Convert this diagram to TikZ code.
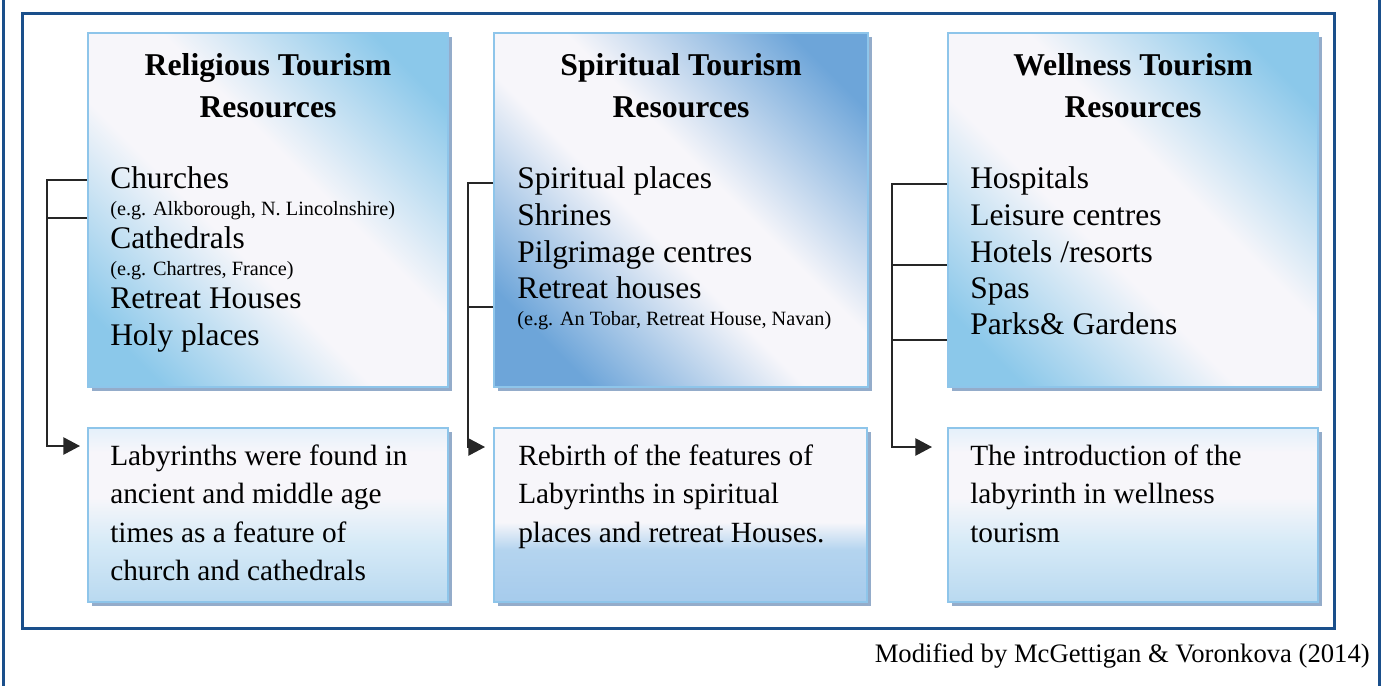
\documentclass[tikz,border=0pt]{standalone}
\usepackage{fontspec}
\setmainfont{Liberation Serif}
\usetikzlibrary{arrows.meta,calc,shadows}

\definecolor{frameblue}{HTML}{1A4F8B}
\definecolor{edgeblue}{HTML}{8EC5EA}
\definecolor{shad}{HTML}{94ACCA}
\definecolor{skyA}{HTML}{8BC8EA}
\definecolor{skyB}{HTML}{6DA5D9}
\definecolor{paleW}{HTML}{F7F6FA}
\definecolor{noteA}{HTML}{B9D9F0}
\definecolor{noteB}{HTML}{D6EAF7}
\definecolor{noteC}{HTML}{E4F0FA}
\definecolor{noteD}{HTML}{A6CBEC}
\definecolor{noteE}{HTML}{B4D4EF}

\pgfdeclareverticalshading{skydiag}{100bp}{color(0bp)=(skyA); color(22bp)=(skyA); color(43bp)=(paleW); color(57bp)=(paleW); color(78bp)=(skyA); color(100bp)=(skyA)}
\pgfdeclareverticalshading{deepdiag}{100bp}{color(0bp)=(skyB); color(24bp)=(skyB); color(45bp)=(paleW); color(56bp)=(paleW); color(78bp)=(skyB); color(100bp)=(skyB)}
\pgfdeclareverticalshading{notefade}{100bp}{color(0bp)=(noteA); color(25bp)=(noteA); color(42bp)=(noteB); color(55bp)=(paleW); color(68bp)=(paleW); color(75bp)=(noteC); color(100bp)=(noteC)}
\pgfdeclareverticalshading{notedeep}{100bp}{color(0bp)=(noteD); color(25bp)=(noteD); color(40bp)=(noteE); color(48bp)=(paleW); color(75bp)=(paleW); color(100bp)=(paleW)}

\tikzset{wire/.style={line width=1.1pt, black!85},
  link/.style={wire, -{Triangle[length=12.5pt, width=13pt]}},
  resbox/.style={draw=edgeblue, line width=1.5pt, anchor=north west, inner sep=0pt,
    minimum height=265.5pt, general shadow={fill=shad, shadow xshift=3pt, shadow yshift=-3pt}},
  notebox/.style={resbox, minimum height=130.5pt},
  head/.style={anchor=base, inner sep=0pt, font=\fontsize{23.8}{28}\selectfont\bfseries},
  item/.style={anchor=base west, inner sep=0pt, font=\fontsize{23.6}{28}\selectfont},
  eg/.style={anchor=base west, inner sep=0pt, font=\fontsize{15.2}{18}\selectfont},
  note/.style={anchor=base west, inner sep=0pt, font=\fontsize{22}{26}\selectfont}}

\begin{document}
\begin{tikzpicture}[x=0.75pt, y=-0.75pt]
  \useasboundingbox (0,0) rectangle (1392,686);
  % page edges and frame
  \draw[frameblue, line width=2.25pt] (3,0) -- (3,686);
  \draw[frameblue, line width=2.25pt] (1379,0) -- (1379,686);
  \draw[frameblue, line width=2.25pt] (22,13) rectangle (1334,628);

  % resource boxes
  \node[resbox, minimum width=270pt, shade, shading=skydiag, shading angle=-45] (rel) at (87,32) {};
  \node[resbox, minimum width=280.5pt, shade, shading=deepdiag, shading angle=-45] (spi) at (493,32) {};
  \node[resbox, minimum width=277.5pt, shade, shading=skydiag, shading angle=-45] (wel) at (947,32) {};

  % labyrinth boxes
  \node[notebox, minimum width=270pt, shade, shading=notefade] (relnote) at (87,427) {};
  \node[notebox, minimum width=279.75pt, shade, shading=notedeep] (spinote) at (493,427) {};
  \node[notebox, minimum width=277.5pt, shade, shading=notefade] (welnote) at (947,427) {};

  % religious
  \node[head] (relh1) at ($(rel.north)+(0,43)$) {Religious Tourism};
  \node[head] (relh2) at ($(rel.north)+(0,85)$) {Resources};
  \node[item] (churches) at ($(rel.north west)+(23,156)$) {Churches};
  \node[eg] (egalk) at ($(rel.north west)+(23,183)$) {(e.g. Alkborough, N. Lincolnshire)};
  \node[item] (cathedrals) at ($(rel.north west)+(23,216)$) {Cathedrals};
  \node[eg] (egchar) at ($(rel.north west)+(23,243)$) {(e.g. Chartres, France)};
  \node[item] (rhouses) at ($(rel.north west)+(23,276)$) {Retreat Houses};
  \node[item] (holy) at ($(rel.north west)+(23,313)$) {Holy places};

  % spiritual
  \node[head] (spih1) at ($(spi.north)+(0,43)$) {Spiritual Tourism};
  \node[head] (spih2) at ($(spi.north)+(0,85)$) {Resources};
  \node[item] (splaces) at ($(spi.north west)+(24,156)$) {Spiritual places};
  \node[item] (shrines) at ($(spi.north west)+(24,193)$) {Shrines};
  \node[item] (pilgrim) at ($(spi.north west)+(24,230)$) {Pilgrimage centres};
  \node[item] (shouses) at ($(spi.north west)+(24,266)$) {Retreat houses};
  \node[eg] (egtobar) at ($(spi.north west)+(24,293)$) {(e.g. An Tobar, Retreat House, Navan)};

  % wellness
  \node[head] (welh1) at ($(wel.north)+(0,43)$) {Wellness Tourism};
  \node[head] (welh2) at ($(wel.north)+(0,85)$) {Resources};
  \node[item] (hosp) at ($(wel.north west)+(23,156)$) {Hospitals};
  \node[item] (leisure) at ($(wel.north west)+(23,193)$) {Leisure centres};
  \node[item] (hotels) at ($(wel.north west)+(23,230)$) {Hotels /resorts};
  \node[item] (spas) at ($(wel.north west)+(23,266)$) {Spas};
  \node[item] (parks) at ($(wel.north west)+(23,302)$) {Parks\& Gardens};

  % labyrinth notes
  \node[note] (reln1) at ($(relnote.north west)+(23,38)$) {Labyrinths were found in};
  \node[note] (reln2) at ($(relnote.north west)+(23,76)$) {ancient and middle age};
  \node[note] (reln3) at ($(relnote.north west)+(23,115)$) {times as a feature of};
  \node[note] (reln4) at ($(relnote.north west)+(23,153)$) {church and cathedrals};
  \node[note] (spin1) at ($(spinote.north west)+(25,38)$) {Rebirth of the features of};
  \node[note] (spin2) at ($(spinote.north west)+(25,76)$) {Labyrinths in spiritual};
  \node[note] (spin3) at ($(spinote.north west)+(25,115)$) {places and retreat Houses.};
  \node[note] (weln1) at ($(welnote.north west)+(23,38)$) {The introduction of the};
  \node[note] (weln2) at ($(welnote.north west)+(23,76)$) {labyrinth in wellness};
  \node[note] (weln3) at ($(welnote.north west)+(23,115)$) {tourism};

  % connectors
  \draw[link] ($(rel.north west)+(0,148)$) -- ++(-40,0) |- ($(relnote.north west)+(-7,19)$);
  \draw[wire] ($(rel.north west)+(0,186)$) -- ++(-40,0);
  \draw[link] ($(spi.north west)+(0,151)$) -- ++(-25,0) |- ($(spinote.north west)+(-8,20)$);
  \draw[wire] ($(spi.north west)+(0,275)$) -- ++(-25,0);
  \draw[link] ($(wel.north west)+(0,152)$) -- ++(-55,0) |- ($(welnote.north west)+(-15,20)$);
  \draw[wire] ($(wel.north west)+(0,233)$) -- ++(-55,0);
  \draw[wire] ($(wel.north west)+(0,308)$) -- ++(-55,0);

  % source
  \node[anchor=base east, inner sep=0pt, font=\fontsize{20}{24}\selectfont] (src) at (1370,662) {Modified by McGettigan \& Voronkova (2014)};
\end{tikzpicture}
\end{document}
